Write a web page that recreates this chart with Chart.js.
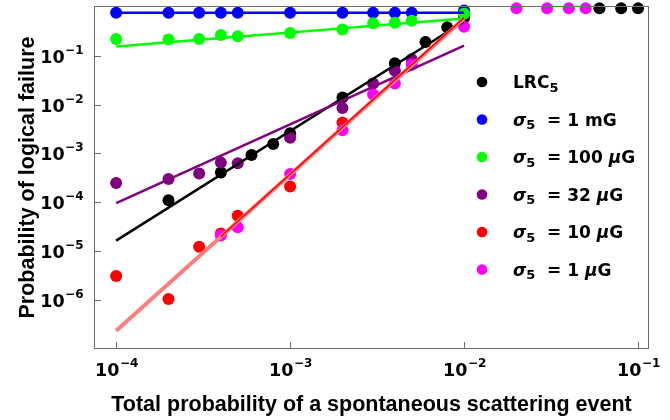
<!DOCTYPE html>
<html>
<head>
<meta charset="utf-8">
<script src="https://cdn.jsdelivr.net/npm/chart.js@4.4.1/dist/chart.umd.min.js"></script>
<style>body{margin:0;background:#fff}</style>
</head>
<body>
<canvas id="chart" width="670" height="420"></canvas>
<script>
// data (x = scattering probability, y = logical failure)
const xLRC = [2e-4, 4e-4, 6e-4, 8e-4, 1e-3, 2e-3, 4e-3, 6e-3, 8e-3, 1e-2, 6e-2, 8e-2, 1e-1];
const yLRC = [1.1e-4, 4.1e-4, 9.3e-4, 1.56e-3, 2.6e-3, 1.4e-2, 7.0e-2, 0.19, 0.38, 0.6, 0.93, 0.93, 0.93];

const x1mG = [1e-4, 2e-4, 3e-4, 4e-4, 5e-4, 1e-3, 2e-3, 3e-3, 4e-3, 5e-3, 1e-2];
const y1mG = [0.76, 0.76, 0.76, 0.76, 0.76, 0.76, 0.76, 0.76, 0.76, 0.76, 0.84];

const x100uG = [1e-4, 2e-4, 3e-4, 4e-4, 5e-4, 1e-3, 2e-3, 3e-3, 4e-3, 5e-3, 1e-2];
const y100uG = [0.22, 0.215, 0.22, 0.265, 0.25, 0.29, 0.345, 0.46, 0.47, 0.52, 0.72];

const x32uG = [1e-4, 2e-4, 3e-4, 4e-4, 5e-4, 1e-3, 2e-3, 3e-3, 4e-3, 5e-3];
const y32uG = [2.5e-4, 3.0e-4, 3.9e-4, 6.5e-4, 6.3e-4, 2.1e-3, 8.5e-3, 2.7e-2, 4.9e-2, 8.5e-2];

const x10uG = [1e-4, 2e-4, 3e-4, 4e-4, 5e-4, 1e-3, 2e-3];
const y10uG = [3.1e-6, 1.05e-6, 1.24e-5, 2.3e-5, 5.3e-5, 2.1e-4, 4.3e-3];

const x1uG = [4e-4, 5e-4, 1e-3, 2e-3, 3e-3, 4e-3, 5e-3, 1e-2, 2e-2, 3e-2, 4e-2, 5e-2];
const y1uG = [2.1e-5, 3.1e-5, 3.8e-4, 3.0e-3, 1.6e-2, 2.7e-2, 6.5e-2, 0.39, 0.93, 0.93, 0.93, 0.93];

// fitted lines (x end points, then y at those points)
const fitX = [1e-4, 1e-2];
const fitLRC = [1.65e-5, 0.5];
const fit1mG = [0.76, 0.76];
const fit100uG = [0.155, 0.58];
const fit32uG = [9.6e-5, 0.16];
const fit1uG = [2.35e-7, 0.58];
const fit10uGX = [4e-4, 1e-2];
const fit10uG = [2.0e-5, 0.6];

const xTicks = [1e-4, 1e-3, 1e-2, 1e-1];
const yTicks = [1e-6, 1e-5, 1e-4, 1e-3, 1e-2, 1e-1];

const legendLabels = [
  [['LRC', 'n'], ['5', 'sub']],
  [['σ', 'i'], ['5', 'sub'], ['  = 1 mG', 'n']],
  [['σ', 'i'], ['5', 'sub'], ['  = 100 ', 'n'], ['μ', 'i'], ['G', 'n']],
  [['σ', 'i'], ['5', 'sub'], ['  = 32 ', 'n'], ['μ', 'i'], ['G', 'n']],
  [['σ', 'i'], ['5', 'sub'], ['  = 10 ', 'n'], ['μ', 'i'], ['G', 'n']],
  [['σ', 'i'], ['5', 'sub'], ['  = 1 ', 'n'], ['μ', 'i'], ['G', 'n']]
];
const legendColors = ['#000000', '#0000ff', '#00ff00', '#800080', '#ff0000', '#ff00ff'];

const zip = (xs, ys) => xs.map((x, i) => ({x: x, y: ys[i]}));

function pts(xs, ys, color) {
  return {data: zip(xs, ys), backgroundColor: color, borderColor: color,
    pointRadius: 6, pointBorderWidth: 0, showLine: false, clip: false};
}
function fit(xs, ys, color, w) {
  return {data: zip(xs, ys), borderColor: color, backgroundColor: color,
    borderWidth: w, pointRadius: 0, showLine: true};
}

// first dataset is drawn on top
const datasets = [
  fit(fit10uGX, fit10uG, '#ff0000', 1.5),
  fit(fitX, fit1uG, '#ff7f7f', 4),
  fit(fitX, fit32uG, '#800080', 2.5),
  fit(fitX, fitLRC, '#000000', 2.5),
  fit(fitX, fit100uG, '#00ff00', 2.5),
  fit(fitX, fit1mG, '#0000ff', 2.5),
  pts(x1uG, y1uG, '#ff00ff'),
  pts(x10uG, y10uG, '#ff0000'),
  pts(x32uG, y32uG, '#800080'),
  pts(x100uG, y100uG, '#00ff00'),
  pts(x1mG, y1mG, '#0000ff'),
  pts(xLRC, yLRC, '#000000')
];

const TICKFONT = '"DejaVu Sans"';

function drawPow(ctx, v, x, baseY, align) {
  const e = Math.round(Math.log10(v));
  const sup = (e < 0 ? '\u2212' : '') + Math.abs(e);
  ctx.font = 'bold 17.5px ' + TICKFONT;
  const w1 = ctx.measureText('10').width;
  ctx.font = 'bold 12px ' + TICKFONT;
  const w2 = ctx.measureText(sup).width;
  let sx = align === 'right' ? x - w1 - w2 : x - (w1 + w2) / 2;
  ctx.textAlign = 'left';
  ctx.textBaseline = 'alphabetic';
  ctx.font = 'bold 17.5px ' + TICKFONT;
  ctx.fillText('10', sx, baseY);
  ctx.font = 'bold 12px ' + TICKFONT;
  ctx.fillText(sup, sx + w1 + 0.5, baseY - 9);
}

const axesPlugin = {
  id: 'axes_frame',
  afterDraw: (chart) => {
    const ctx = chart.ctx;
    const a = chart.chartArea;
    const xs = chart.scales.x, ys = chart.scales.y;
    ctx.save();
    ctx.strokeStyle = '#6e6e6e';
    ctx.lineWidth = 1;
    ctx.strokeRect(a.left + 0.5, a.top + 0.5, a.right - a.left - 1, a.bottom - a.top - 1);
    ctx.fillStyle = '#000';
    xTicks.forEach(v => {
      const px = Math.round(xs.getPixelForValue(v)) + 0.5;
      ctx.beginPath();
      ctx.moveTo(px, a.bottom);
      ctx.lineTo(px, a.bottom - 7);
      ctx.stroke();
      drawPow(ctx, v, px, a.bottom + 27, 'center');
    });
    yTicks.forEach(v => {
      const py = Math.round(ys.getPixelForValue(v)) + 0.5;
      ctx.beginPath();
      ctx.moveTo(a.left, py);
      ctx.lineTo(a.left + 7, py);
      ctx.stroke();
      drawPow(ctx, v, a.left - 11, py + 6.5, 'right');
    });
    ctx.restore();
  }
};

const legendPlugin = {
  id: 'rich_legend',
  afterDraw: (chart) => {
    const ctx = chart.ctx;
    const a = chart.chartArea;
    ctx.save();
    legendLabels.forEach((segs, k) => {
      const cy = a.top + 76 + 37.5 * k;
      ctx.fillStyle = legendColors[k];
      ctx.beginPath();
      ctx.arc(a.right - 167, cy, 5.3, 0, Math.PI * 2);
      ctx.fill();
      ctx.fillStyle = '#000';
      ctx.textAlign = 'left';
      ctx.textBaseline = 'alphabetic';
      let x = a.right - 136;
      segs.forEach(([t, s]) => {
        let dy = 6.2;
        if (s === 'i') ctx.font = 'italic bold 17px ' + TICKFONT;
        else if (s === 'sub') { ctx.font = 'bold 13px ' + TICKFONT; dy = 9.5; }
        else ctx.font = 'bold 17px ' + TICKFONT;
        ctx.fillText(t, x, cy + dy);
        x += ctx.measureText(t).width;
      });
    });
    ctx.restore();
  }
};

const titleFont = {family: '"Liberation Sans", Arial, sans-serif', size: 21.5, weight: 'bold'};

const config = {
  type: 'scatter',
  data: {datasets: datasets},
  options: {
    responsive: false,
    animation: false,
    layout: {padding: {left: 11, right: 21, top: 6, bottom: 0}},
    plugins: {legend: {display: false}, tooltip: {enabled: false}},
    scales: {
      x: {
        type: 'logarithmic',
        bounds: 'data',
        min: 7.46e-5,
        max: 0.1156,
        afterBuildTicks: (s) => { s.ticks = xTicks.map(v => ({value: v})); },
        afterFit: (s) => { s.height = 71; },
        ticks: {display: false},
        grid: {display: false},
        border: {display: false},
        title: {display: true, text: 'Total probability of a spontaneous scattering event',
          color: '#000', font: titleFont, padding: {top: 4, bottom: 2}}
      },
      y: {
        type: 'logarithmic',
        bounds: 'data',
        min: 1e-7,
        max: 1.04,
        afterBuildTicks: (s) => { s.ticks = yTicks.map(v => ({value: v})); },
        afterFit: (s) => { s.width = 83; },
        ticks: {display: false},
        grid: {display: false},
        border: {display: false},
        title: {display: true, text: 'Probability of logical failure',
          color: '#000', font: titleFont, padding: {top: 4, bottom: 4}}
      }
    }
  },
  plugins: [axesPlugin, legendPlugin]
};

const chart = new Chart(document.getElementById('chart'), config);
</script>
</body>
</html>
